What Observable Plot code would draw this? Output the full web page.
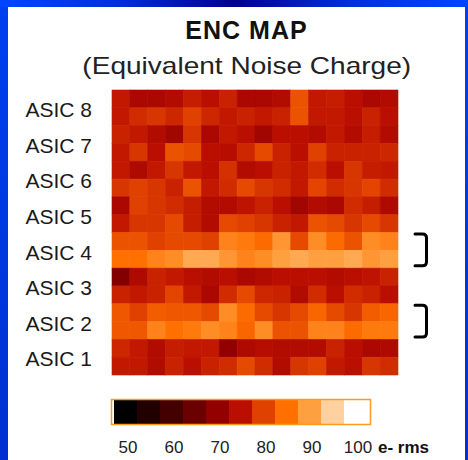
<!DOCTYPE html>
<html>
<head>
<meta charset="utf-8">
<script src="https://cdn.jsdelivr.net/npm/d3@7"></script>
<script src="https://cdn.jsdelivr.net/npm/@observablehq/plot@0.6"></script>
<style>
html, body { margin: 0; padding: 0; }
body {
  width: 468px; height: 460px; position: relative; overflow: hidden;
  background: linear-gradient(90deg, #0046ff 0%, #0030d8 25%, #00008c 50%, #0030d8 75%, #0046ff 100%);
  font-family: "Liberation Sans", Arial, sans-serif;
}
.side { position: absolute; top: 7px; bottom: 0; background: linear-gradient(180deg, #0040f0, #0030d0); }
#leftside { left: 0; width: 8px; }
#rightside { right: 0; width: 3px; }
#panel { position: absolute; left: 8px; top: 7px; width: 457px; height: 453px; background: #fff; }
#title { position: absolute; left: -8px; top: 11px; width: 493px; text-align: center; font-size: 25px; line-height: 25px; font-weight: bold; letter-spacing: 1px; color: #111; }
#subtitle { position: absolute; left: -8px; top: 47px; width: 494px; text-align: center; font-size: 24px; line-height: 24px; color: #222; }
#subtitle span { display: inline-block; transform: scaleX(1.168); }
#map, #bar { position: absolute; left: 0; }
#map { top: 0; }
#bar { top: 383px; }
</style>
</head>
<body>
<div class="side" id="leftside"></div>
<div class="side" id="rightside"></div>
<div id="panel">
  <div id="title">ENC MAP</div>
  <div id="subtitle"><span>(Equivalent Noise Charge)</span></div>
  <div id="map"></div>
  <div id="bar"></div>
</div>
<script>
// ---- data (ENC in e- rms), rows listed top to bottom, 16 channels each ----
const asicLabels = ["ASIC 8", "ASIC 7", "ASIC 6", "ASIC 5", "ASIC 4", "ASIC 3", "ASIC 2", "ASIC 1"];
const bracketed = ["ASIC 4", "ASIC 2"];

const asic8 = [
  [76, 73, 73, 74, 76.5, 75, 77, 73, 73, 74, 82, 76, 76.5, 75, 73, 74],
  [76, 78, 79, 77.5, 80, 77.5, 76, 77, 76, 77, 82, 76, 76, 75, 77, 75]
];
const asic7 = [
  [77, 76, 74, 72, 79, 73, 76, 75, 72, 75, 75, 74, 76, 74, 76.5, 74],
  [76, 79, 75, 82, 81, 75, 74.5, 77.5, 81, 77, 75, 80, 77, 77, 77, 77.5]
];
const asic6 = [
  [76, 73.5, 76, 79, 76, 75, 78.5, 74, 75, 77, 76, 78, 75, 79, 76.5, 76],
  [79, 80, 79, 77, 82, 76, 78, 81, 79, 78, 76, 80.5, 78, 79, 80.5, 78]
];
const asic5 = [
  [73, 80, 79, 78, 76.5, 74, 74, 75.5, 77, 75, 72, 74, 73, 78, 76.5, 73.5],
  [76, 79, 79, 81, 76.5, 74, 81, 80, 79, 77, 76, 82, 81, 79, 81, 79]
];
const asic4 = [
  [82, 82, 80, 81, 81, 80, 87, 86, 84.5, 89, 81, 88, 84.5, 82, 88, 87],
  [85, 85, 87, 88, 91, 91, 89, 87, 88, 90, 91, 90, 90, 91, 89, 90]
];
const asic3 = [
  [68, 73.5, 77, 76, 75, 74, 75, 73, 74, 75, 75, 75, 74, 75, 75.5, 77],
  [77, 76, 77, 80.5, 76, 73, 78, 81, 77.5, 77, 74, 78, 75, 78, 77, 75]
];
const asic2 = [
  [82.5, 80, 83, 82.5, 82.5, 81, 88, 84.5, 81, 79, 81, 84, 81, 79, 83, 84],
  [82.5, 82.5, 87, 85, 86, 88, 87, 84, 88, 82, 82, 87, 87, 84.5, 86, 86]
];
const asic1 = [
  [77.5, 76, 74, 76.5, 76, 76, 70, 73.5, 74.5, 74, 74, 74, 77, 75, 73, 73.5],
  [76, 76, 74, 77, 75, 77, 78, 81, 78, 74, 79, 80, 76, 75, 79, 78]
];

// colour bar
const swatchValues = [50, 55, 60, 65, 70, 75, 80, 85, 90, 95, 100];
const swatchColors = ["#000000", "#220000", "#440000", "#6a0000", "#920000", "#ba0e00", "#e04000", "#ff7000", "#ffa040", "#ffd0a0", "#ffffff"];
const tickValues = [50, 60, 70, 80, 90, 100];
const unitLabel = "e- rms";

// ---- build table ----
const asicRows = [asic8, asic7, asic6, asic5, asic4, asic3, asic2, asic1];
const cells = asicRows.flatMap((pair, a) =>
  pair.flatMap((row, r) => row.map((v, c) => ({col: c, row: a * 2 + r, value: v})))
);

const colorScale = {type: "linear", domain: swatchValues, range: swatchColors, interpolate: "rgb"};
const font = {fontFamily: "'Liberation Sans', Arial, sans-serif", background: "transparent", overflow: "visible"};

const bracketMark = (index, scales, values, dimensions) => {
  const g = d3.create("svg:g").attr("fill", "none").attr("stroke", "#000").attr("stroke-width", 3).attr("stroke-linecap", "round");
  const xr = dimensions.width - dimensions.marginRight;
  const x0 = xr + 17, x1 = xr + 28.5, rad = 4;
  for (const name of bracketed) {
    const a = asicLabels.indexOf(name);
    const y1 = scales.y(a * 2) + 1.5, y2 = scales.y(a * 2 + 2) - 2.5;
    g.append("path").attr("d",
      `M${x0},${y1}H${x1 - rad}Q${x1},${y1} ${x1},${y1 + rad}V${y2 - rad}Q${x1},${y2} ${x1 - rad},${y2}H${x0}`);
  }
  return g.node();
};

const map = Plot.plot({
  width: 457, height: 373,
  marginLeft: 104, marginRight: 67, marginTop: 83, marginBottom: 5,
  style: font,
  x: {domain: [0, 16], axis: null},
  y: {domain: [0, 16], reverse: true, axis: null},
  color: colorScale,
  marks: [
    Plot.rect(cells, {x1: "col", x2: d => d.col + 1, y1: "row", y2: d => d.row + 1, fill: "value", stroke: "value", strokeWidth: 0.6}),
    Plot.text(asicLabels, {frameAnchor: "left", y: (d, i) => i * 2 + 1, text: d => d, textAnchor: "start", dx: -87, dy: 2, fontSize: 21, fill: "#1a1a1a"}),
    bracketMark
  ]
});
document.getElementById("map").appendChild(map);

const bar = Plot.plot({
  width: 457, height: 70,
  marginLeft: 103, marginRight: 95, marginTop: 9, marginBottom: 36,
  style: font,
  x: {type: "band", domain: swatchValues, padding: 0, axis: null},
  color: colorScale,
  marks: [
    Plot.cell(swatchValues, {x: d => d, fill: d => d}),
    Plot.frame({stroke: "#ff9a20", strokeWidth: 1.5}),
    Plot.text(tickValues, {x: d => d, text: d => String(d), frameAnchor: "bottom", lineAnchor: "top", dy: 16, dx: 2, fontSize: 17, fill: "#222"}),
    Plot.text([unitLabel], {x: () => 100, text: d => d, frameAnchor: "bottom", lineAnchor: "top", dy: 16, dx: 22, textAnchor: "start", fontSize: 17, fontWeight: "bold", fill: "#111"})
  ]
});
document.getElementById("bar").appendChild(bar);
</script>
</body>
</html>
